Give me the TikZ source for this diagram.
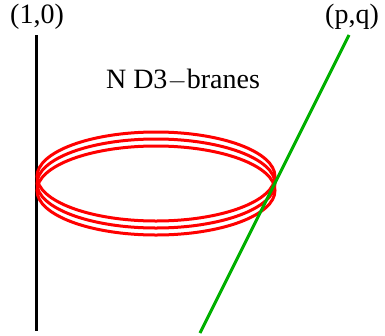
\documentclass[tikz,border=0pt]{standalone}
\usepackage{fontspec}
\setmainfont{Liberation Serif}
\usepackage{tikz}
\usetikzlibrary{positioning,calc}
\definecolor{BraneGreen}{RGB}{0,176,0}
\definecolor{BraneRed}{RGB}{255,0,0}

\begin{document}
\begin{tikzpicture}[x=1pt,y=-1pt,font=\fontsize{28}{31}\selectfont,
  brane/.style={line width=3pt}]
  \useasboundingbox (0,0) rectangle (385,335);
  \node (lbl10) at (37,17) {(1,0)};
  \node (lblpq) at (352,17) {(p,q)};
  \node (lbld3) at (183,80) {N D3$-$branes};
  \coordinate (ns5top) at (36,35);
  \coordinate (ns5bot) at (36,331);
  \coordinate (pqtop) at (349,35);
  \coordinate (pqbot) at (200,333);
  \draw[brane,black] (ns5top)--(ns5bot);
  \foreach \dy in {176.5,183.5,190.5}
    \draw[brane,BraneRed] (156,\dy) ellipse [x radius=119,y radius=44.5];
  \draw[brane,BraneGreen] (pqtop)--(pqbot);
\end{tikzpicture}
\end{document}
